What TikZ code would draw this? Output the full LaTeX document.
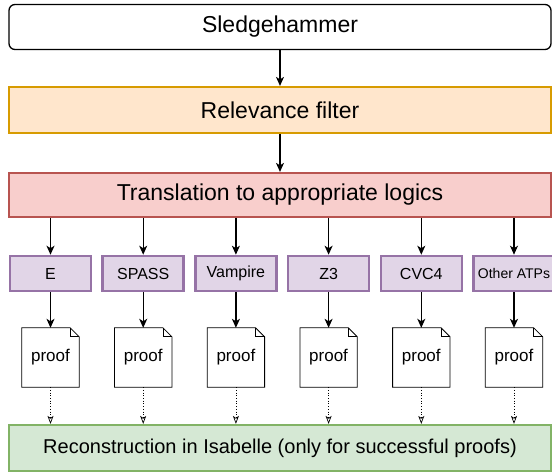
\documentclass[tikz,border=0pt]{standalone}
\usepackage{fontspec}
\setmainfont{Liberation Sans}
\usetikzlibrary{arrows.meta}

\definecolor{relfill}{HTML}{FFE6CC}
\definecolor{relline}{HTML}{D79B00}
\definecolor{transfill}{HTML}{F8CECC}
\definecolor{transline}{HTML}{B85450}
\definecolor{atpfill}{HTML}{E1D5E7}
\definecolor{atpline}{HTML}{9673A6}
\definecolor{recfill}{HTML}{D5E8D4}
\definecolor{recline}{HTML}{82B366}

\begin{document}
\begin{tikzpicture}[x=1pt,y=-1pt,
  stage/.style={draw,inner sep=0pt,minimum width=542pt,line width=2.2pt,
    font=\fontsize{23}{27}\selectfont},
  atp/.style={draw=atpline,fill=atpfill,inner sep=0pt,line width=2.6pt,
    minimum width=81pt,minimum height=35pt},
  doc/.style={inner sep=0pt,minimum width=57pt,minimum height=59pt,
    font=\fontsize{17}{20}\selectfont},
  arr/.style={line width=1.2pt,-{Stealth[length=9pt,width=8pt,inset=2.5pt]}},
  res/.style={line width=0.7pt,dotted,-{Stealth[open,length=8pt,width=6pt,inset=2pt]}}]
\useasboundingbox (0,0) rectangle (552,474);

% pipeline stages

\node[stage,rounded corners=6pt,line width=1.3pt,minimum height=45pt] (sledge) at (280,27) {Sledgehammer};
\node[stage,draw=relline,fill=relfill,minimum height=46pt] (relevance) at (280,110) {Relevance filter};
\node[stage,draw=transline,fill=transfill,minimum height=44pt] (translation) at (280,195) {Translation to appropriate logics};

\draw[arr] (sledge) -- (relevance);
\draw[arr] (relevance) -- (translation);

% reconstruction

\node[stage,draw=recline,fill=recfill,minimum height=46pt,font=\fontsize{20}{24}\selectfont] (recon) at (280,448) {Reconstruction in Isabelle (only for successful proofs)};

% provers and their proofs

\foreach \name/\lbl/\sz [count=\i from 0] in {e/E/16,spass/SPASS/16,vampire/Vampire/16,zthree/Z3/16,cvc/CVC4/16,other/Other ATPs/14}
{
  \node[atp,font=\fontsize{\sz}{\sz}\selectfont] (\name) at (50.5+92.7*\i,273.5) {\lbl};
  \node[doc] (proof\i) at (50.5+92.7*\i,357.5) {proof};
  \draw[line width=0.8pt] (proof\i.south west) -- (proof\i.north west)
    -- ([xshift=-9pt]proof\i.north east) -- ([yshift=-9pt]proof\i.north east)
    -- (proof\i.south east) -- cycle;
  \draw[line width=0.8pt] ([xshift=-9pt]proof\i.north east) -- ([xshift=-9pt,yshift=-9pt]proof\i.north east)
    -- ([yshift=-9pt]proof\i.north east);
  \draw[arr] (translation.south -| \name) -- (\name.north);
  \draw[arr] (\name) -- (proof\i);
  \draw[res] (proof\i) -- (recon.north -| proof\i);
}

\end{tikzpicture}
\end{document}
